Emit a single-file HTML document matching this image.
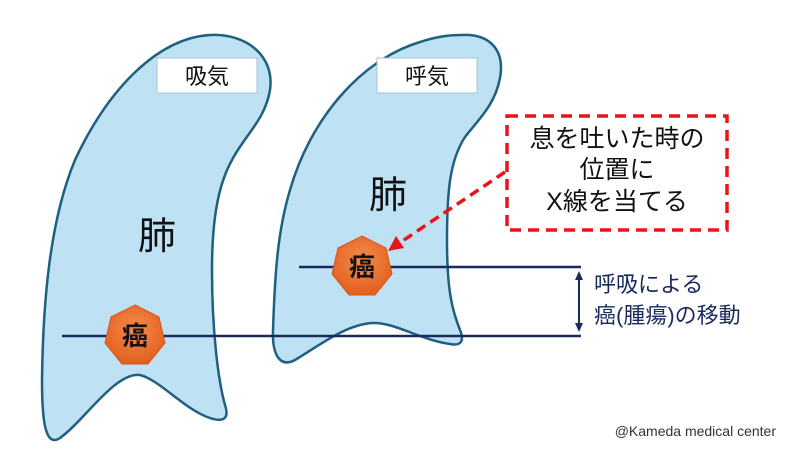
<!DOCTYPE html>
<html><head><meta charset="utf-8"><style>
html,body{margin:0;padding:0;background:#fff;}
svg{display:block;}
text{font-family:"Liberation Sans","Noto Sans CJK JP",sans-serif;}
</style></head><body>
<svg width="800" height="450" viewBox="0 0 800 450" xmlns="http://www.w3.org/2000/svg">
<defs>
<radialGradient id="og" cx="0.5" cy="0.4" r="0.6">
<stop offset="0" stop-color="#f58a4a"/><stop offset="1" stop-color="#e2601f"/>
</radialGradient>
</defs>
<path d="M210,35 C245,33 275,55 270,90 C265,120 245,135 232,160 C218,185 212,220 212,270 C212,330 218,380 225,405 C230,420 222,422 210,418 C185,410 160,380 140,375 C115,372 85,420 60,438 C45,448 42,420 42,380 C43,300 50,220 75,160 C110,85 160,38 210,35 Z" fill="#bfe1f4" stroke="#1f5f7f" stroke-width="2.5"/>
<path d="M460,35 C490,33 505,50 500,78 C495,105 478,120 465,137 C450,160 447,190 447,240 C447,290 452,310 460,330 C465,342 460,346 450,344 C420,340 395,322 372,323 C345,325 320,345 295,360 C280,368 272,355 273,330 C275,270 278,230 290,190 C310,120 360,60 420,42 C435,37 448,35 460,35 Z" fill="#bfe1f4" stroke="#1f5f7f" stroke-width="2.5"/>
<rect x="157" y="58" width="100" height="35" fill="#fff" stroke="#a9c2d6" stroke-width="1"/>
<text x="207" y="84" font-size="22" text-anchor="middle" fill="#111">吸気</text>
<rect x="377" y="58" width="100" height="35" fill="#fff" stroke="#a9c2d6" stroke-width="1"/>
<text x="427" y="84" font-size="22" text-anchor="middle" fill="#111">呼気</text>
<text x="157" y="249" font-size="38" text-anchor="middle" fill="#111">肺</text>
<text x="388" y="208" font-size="38" text-anchor="middle" fill="#111">肺</text>
<line x1="299" y1="267" x2="581" y2="267" stroke="#1a2a5e" stroke-width="2.5"/>
<line x1="62" y1="336" x2="581" y2="336" stroke="#1a2a5e" stroke-width="2.5"/>
<line x1="579" y1="278" x2="579" y2="325" stroke="#1a2a5e" stroke-width="2"/>
<polygon points="579,271 575,280 583,280" fill="#1a2a5e"/>
<polygon points="579,332 575,323 583,323" fill="#1a2a5e"/>
<g transform="translate(135,336)">
<polygon points="0,-31 24,-19 30,7 13,28 -13,28 -30,7 -24,-19" fill="url(#og)" stroke="#d5571a" stroke-width="1"/>
<text x="0" y="9" font-size="26" font-weight="bold" text-anchor="middle" fill="#111">癌</text>
</g>
<g transform="translate(362,267)">
<polygon points="0,-31 24,-19 30,7 13,28 -13,28 -30,7 -24,-19" fill="url(#og)" stroke="#d5571a" stroke-width="1"/>
<text x="0" y="9" font-size="26" font-weight="bold" text-anchor="middle" fill="#111">癌</text>
</g>
<rect x="507" y="116" width="220" height="114" fill="none" stroke="#e8141c" stroke-width="3.5" stroke-dasharray="11,7"/>
<text x="617" y="147" font-size="25" text-anchor="middle" fill="#111">息を吐いた時の</text>
<text x="617" y="178" font-size="25" text-anchor="middle" fill="#111">位置に</text>
<text x="617" y="210" font-size="25" text-anchor="middle" fill="#111">X線を当てる</text>
<line x1="505" y1="172" x2="398" y2="244" stroke="#e8141c" stroke-width="3.5" stroke-dasharray="10,6"/>
<polygon points="388,251 396,236 404,248" fill="#e8141c"/>
<text x="594" y="292" font-size="22" fill="#1a2a5e">呼吸による</text>
<text x="594" y="323" font-size="22" fill="#1a2a5e">癌(腫瘍)の移動</text>
<text x="776" y="436" font-size="14" text-anchor="end" fill="#333">@Kameda medical center</text>
</svg>
</body></html>
